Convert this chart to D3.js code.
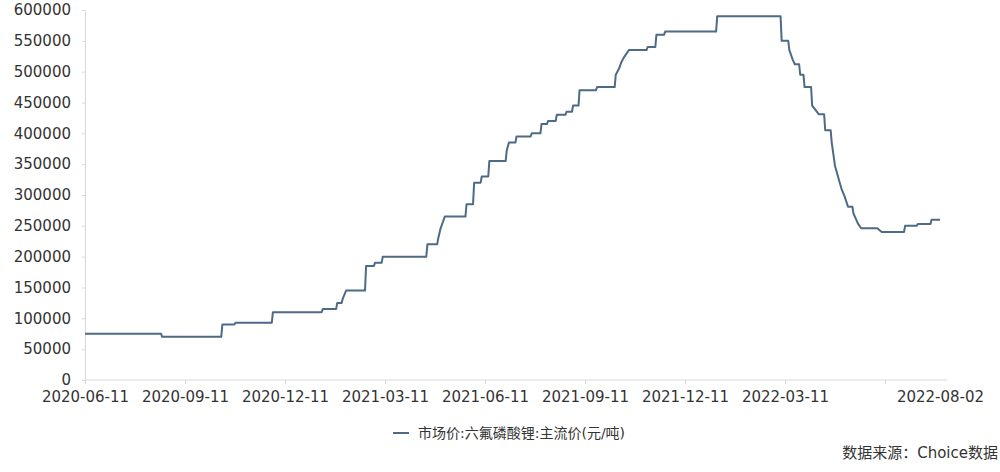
<!DOCTYPE html>
<html>
<head>
<meta charset="utf-8">
<script src="https://cdn.jsdelivr.net/npm/d3@7"></script>
<style>
  body { margin: 0; background: #fff; }
  text { font-family: "DejaVu Sans", "Noto Sans CJK SC", sans-serif; fill: #333; }
</style>
</head>
<body>
<div id="chart"></div>
<script>
// Dates where the price changes, and the price from that date on (yuan/ton)
const dates = [
  "2020-06-11", "2020-08-21", "2020-10-15", "2020-10-27", "2020-11-30",
  "2021-01-14", "2021-01-27", "2021-02-01", "2021-02-04", "2021-02-22",
  "2021-03-02", "2021-03-09", "2021-04-19", "2021-04-29", "2021-05-01",
  "2021-05-03", "2021-05-05", "2021-05-25", "2021-06-01", "2021-06-08",
  "2021-06-15", "2021-07-01", "2021-07-03", "2021-07-10", "2021-07-24",
  "2021-08-02", "2021-08-08", "2021-08-16", "2021-08-25", "2021-08-31",
  "2021-09-06", "2021-09-22", "2021-10-09", "2021-10-12", "2021-10-14",
  "2021-10-16", "2021-10-19", "2021-10-21", "2021-11-07", "2021-11-15",
  "2021-11-23", "2022-01-09", "2022-03-08", "2022-03-15", "2022-03-18",
  "2022-03-20", "2022-03-25", "2022-03-29", "2022-04-05", "2022-04-08",
  "2022-04-11", "2022-04-17", "2022-04-23", "2022-04-25", "2022-04-26",
  "2022-04-28", "2022-04-30", "2022-05-02", "2022-05-05", "2022-05-08",
  "2022-05-13", "2022-05-15", "2022-05-17", "2022-05-20", "2022-06-04",
  "2022-06-06", "2022-06-08", "2022-06-30", "2022-07-12", "2022-07-25",
  "2022-08-02"
];
const prices = [
  75000, 70000, 90000, 93000, 110000,
  115000, 125000, 132000, 145000, 185000,
  190000, 200000, 220000, 230000, 245000,
  255000, 265000, 285000, 320000, 330000,
  355000, 372000, 385000, 395000, 400000,
  415000, 420000, 430000, 435000, 445000,
  470000, 475000, 495000, 505000, 515000,
  522000, 530000, 535000, 540000, 560000,
  565000, 590000, 550000, 535000, 520000,
  512000, 495000, 475000, 445000, 438000,
  431000, 405000, 385000, 360000, 347000,
  335000, 322000, 310000, 297000, 281000,
  270000, 262000, 254000, 246000, 246000,
  243000, 240000, 250000, 253000, 260000,
  260000
];
// Axis tick dates (one every three months, plus the last day)
const tickDates = [
  "2020-06-11", "2020-09-11", "2020-12-11", "2021-03-11", "2021-06-11",
  "2021-09-11", "2021-12-11", "2022-03-11", "2022-06-11", "2022-08-02"
];
const yTicks = [0, 50000, 100000, 150000, 200000, 250000, 300000, 350000, 400000, 450000, 500000, 550000, 600000];
const seriesName = "市场价:六氟磷酸锂:主流价(元/吨)";
const sourceText = "数据来源：Choice数据";

const parse = d3.timeParse("%Y-%m-%d");
const fmt = d3.timeFormat("%Y-%m-%d");
const ticks = tickDates.map(parse);

// Daily series: a price holds until the day before the next change.
// Changes only a few days apart are joined directly, as the daily line does.
const data = [];
dates.forEach((d, i) => {
  const date = parse(d);
  if (i > 0) {
    const prev = data[data.length - 1];
    const gap = d3.timeDay.count(prev.date, date);
    if (gap > 3) data.push({date: d3.timeDay.offset(date, -1), value: prev.value});
  }
  data.push({date: date, value: prices[i]});
});

const width = 1000, height = 472;
const margin = {top: 10, bottom: 92, left: 85, right: 53};

const svg = d3.select("#chart")
  .append("svg")
  .attr("width", width)
  .attr("height", height);

// Category-like axis: each quarter gets the same width
const x = d3.scaleTime()
  .domain(ticks)
  .range([85, 185, 285, 385, 485, 585, 685, 785, 885, 940]);

const y = d3.scaleLinear()
  .domain([0, 600000])
  .range([height - margin.bottom, margin.top]);

const axisColor = "#d9d9d9";

// x axis
const xAxis = svg.append("g")
  .attr("transform", `translate(0,${height - margin.bottom})`)
  .call(d3.axisBottom(x)
    .tickValues(ticks)
    .tickSize(4)
    .tickSizeOuter(0)
    .tickPadding(7)
    .tickFormat(d => fmt(d) === "2022-06-11" ? "" : fmt(d)));
xAxis.select(".domain").remove();
xAxis.append("line")
  .attr("x1", margin.left)
  .attr("x2", width - margin.right)
  .attr("stroke", axisColor);
xAxis.selectAll(".tick line").attr("stroke", axisColor)
  .filter(d => fmt(d) === "2022-08-02").remove();
xAxis.selectAll("text")
  .style("font-size", "15px")
  .style("fill", "#333");

// y axis
const yAxis = svg.append("g")
  .attr("transform", `translate(${margin.left},0)`)
  .call(d3.axisLeft(y)
    .tickValues(yTicks)
    .tickSize(3)
    .tickSizeOuter(0)
    .tickPadding(11)
    .tickFormat(d3.format("d")));
yAxis.select(".domain").attr("stroke", axisColor);
yAxis.selectAll(".tick line").attr("stroke", axisColor);
yAxis.selectAll("text")
  .style("font-size", "15px")
  .style("fill", "#333");

// price line
const line = d3.line()
  .x(d => x(d.date))
  .y(d => y(d.value));

const lineColor = "#4d6a87";

svg.append("path")
  .datum(data)
  .attr("fill", "none")
  .attr("stroke", lineColor)
  .attr("stroke-width", 2)
  .attr("stroke-linejoin", "round")
  .attr("d", line);

// legend
const legend = svg.append("g")
  .attr("transform", "translate(393,433)");
legend.append("line")
  .attr("x1", 0)
  .attr("x2", 16)
  .attr("stroke", lineColor)
  .attr("stroke-width", 2);
legend.append("text")
  .attr("x", 25)
  .attr("y", 0)
  .attr("dominant-baseline", "central")
  .style("font-size", "14px")
  .text(seriesName);

// source note
svg.append("text")
  .attr("x", width - 2)
  .attr("y", 458)
  .style("text-anchor", "end")
  .style("font-size", "15px")
  .text(sourceText);
</script>
</body>
</html>
